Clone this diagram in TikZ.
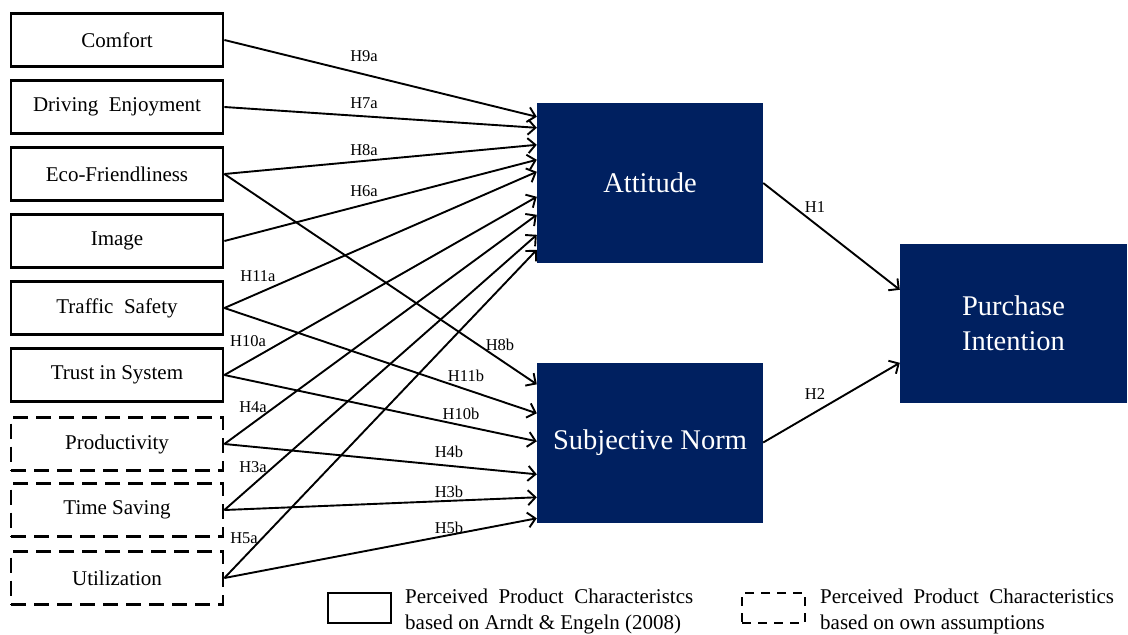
\documentclass[tikz,border=0pt]{standalone}
\usepackage{fontspec}
\setmainfont{Liberation Serif}
\usetikzlibrary{arrows.meta,calc}
\definecolor{navy}{RGB}{0,32,96}
\begin{document}
\begin{tikzpicture}[x=1pt,y=-1pt,
 pbox/.style={draw, line width=2.8pt, minimum width=212pt, minimum height=53pt, inner sep=0pt, font=\fontsize{21}{25}\selectfont},
 dbox/.style={pbox, dash pattern=on 15pt off 8pt},
 bigbox/.style={fill=navy, text=white, minimum width=226pt, minimum height=160pt, inner sep=0pt, font=\fontsize{28.5}{35}\selectfont, align=center},
 arr/.style={line width=1.9pt, -{Straight Barb[length=7.5pt,width=15pt,line width=1.9pt]}},
 hl/.style={font=\fontsize{16.5}{18}\selectfont, inner sep=0pt},
 legtext/.style={font=\fontsize{21}{26}\selectfont, align=left, anchor=west, inner sep=0pt}]
\useasboundingbox (0,0) rectangle (1128,635);
% left boxes
\node[pbox] (comfort) at (117,40) {Comfort};
\node[pbox] (drive) at (117,107) {Driving\ \ Enjoyment};
\node[pbox] (eco) at (117,174) {Eco-Friendliness};
\node[pbox] (image) at (117,241) {Image};
\node[pbox] (traffic) at (117,308) {Traffic\ \ Safety};
\node[pbox] (trust) at (117,375) {Trust in System};
\node[dbox] (prod) at (117,444) {Productivity};
\node[dbox] (time) at (117,510) {Time Saving};
\node[dbox] (util) at (117,578) {Utilization};
% main boxes
\node[bigbox] (att) at (650,183) {Attitude};
\node[bigbox] (sn) at (650,442.5) {Subjective Norm};
\node[bigbox, minimum width=227pt, minimum height=159pt] (pi) at (1013.5,323.5) {Purchase\\Intention};
% target coordinates
\coordinate (a1) at ($(att.north west)+(0,14)$);
\coordinate (a2) at ($(att.north west)+(0,25)$);
\coordinate (a3) at ($(att.north west)+(0,42)$);
\coordinate (a4) at ($(att.north west)+(0,57)$);
\coordinate (a5) at ($(att.north west)+(0,69)$);
\coordinate (a6) at ($(att.north west)+(0,94)$);
\coordinate (a7) at ($(att.north west)+(0,112)$);
\coordinate (a8) at ($(att.north west)+(0,132)$);
\coordinate (a9) at ($(att.north west)+(0,147)$);
\coordinate (s1) at ($(sn.north west)+(0,22)$);
\coordinate (s2) at ($(sn.north west)+(0,51)$);
\coordinate (s3) at ($(sn.north west)+(0,79)$);
\coordinate (s4) at ($(sn.north west)+(0,112)$);
\coordinate (s5) at ($(sn.north west)+(0,135)$);
\coordinate (s6) at ($(sn.north west)+(0,156)$);
\coordinate (p1) at ($(pi.north west)+(0,46)$);
\coordinate (p2) at ($(pi.north west)+(0,119)$);
% arrows to attitude
\draw[arr] (comfort.east) -- (a1);
\draw[arr] (drive.east) -- (a2);
\draw[arr] (eco.east) -- (a3);
\draw[arr] (image.east) -- (a4);
\draw[arr] (traffic.east) -- (a5);
\draw[arr] (trust.east) -- (a6);
\draw[arr] (prod.east) -- (a7);
\draw[arr] (time.east) -- (a8);
\draw[arr] (util.east) -- (a9);
% arrows to subjective norm
\draw[arr] (eco.east) -- (s1);
\draw[arr] (traffic.east) -- (s2);
\draw[arr] (trust.east) -- (s3);
\draw[arr] (prod.east) -- (s4);
\draw[arr] (time.east) -- (s5);
\draw[arr] (util.east) -- (s6);
% to purchase intention
\draw[arr] (att.east) -- (p1);
\draw[arr] (sn.east) -- (p2);
% labels
\node[hl] (l9a) at (364,56) {H9a};
\node[hl] (l7a) at (364,103) {H7a};
\node[hl] (l8a) at (364,150) {H8a};
\node[hl] (l6a) at (364,191) {H6a};
\node[hl] (l11a) at (258,276) {H11a};
\node[hl] (l10a) at (248,341) {H10a};
\node[hl] (l4a) at (253,407) {H4a};
\node[hl] (l3a) at (253,467) {H3a};
\node[hl] (l5a) at (244,538) {H5a};
\node[hl] (l8b) at (500,345) {H8b};
\node[hl] (l11b) at (466,376) {H11b};
\node[hl] (l10b) at (461,414) {H10b};
\node[hl] (l4b) at (449,452) {H4b};
\node[hl] (l3b) at (449,492) {H3b};
\node[hl] (l5b) at (449,528) {H5b};
\node[hl] (l1) at (815,207) {H1};
\node[hl] (l2) at (815,394) {H2};
% legend
\node[draw, line width=2.8pt, minimum width=63pt, minimum height=30pt, inner sep=0pt] (leg1) at (359.5,608) {};
\node[legtext] (leg1t) at (405,611) {Perceived\ \ Product\ \ Characteristcs\\based on Arndt \& Engeln (2008)};
\node[draw, line width=2.5pt, dash pattern=on 9pt off 7pt, minimum width=63pt, minimum height=30pt, inner sep=0pt] (leg2) at (773.5,608) {};
\node[legtext] (leg2t) at (820,611) {Perceived\ \ Product\ \ Characteristics\\based on own assumptions};
\end{tikzpicture}
\end{document}
